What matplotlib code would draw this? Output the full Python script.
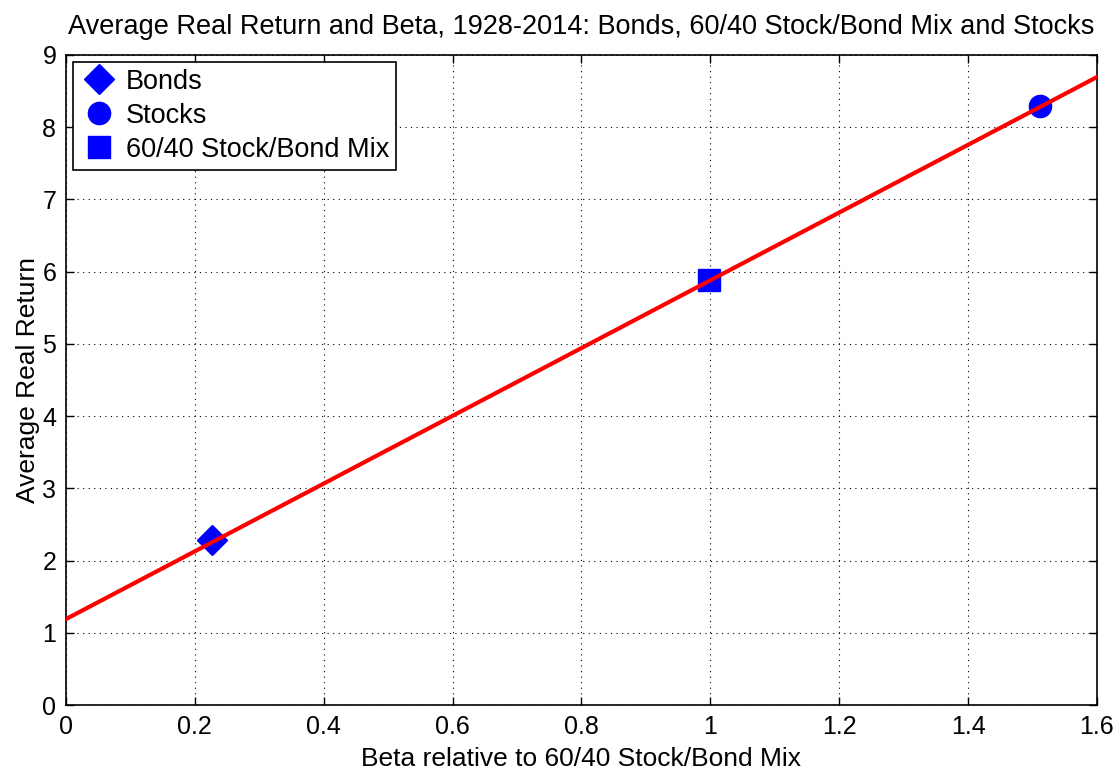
import numpy as np
import matplotlib
matplotlib.use("Agg")
import matplotlib.pyplot as plt

plt.rcParams['font.family'] = ['Liberation Sans', 'DejaVu Sans']

# average real return vs beta, 1928-2014
labels = ["Bonds", "Stocks", "60/40 Stock/Bond Mix"]
betas = [0.226, 1.512, 0.998]
returns = [2.28, 8.30, 5.89]
markers = ["D", "o", "s"]
sizes = [15, 16, 16]

# fitted security market line
fit_intercept = 1.19
fit_slope = 4.69
x_range = [0, 1.6]

fig = plt.figure(figsize=(11.17, 7.71), dpi=100)
ax = fig.add_axes([0.0591, 0.0856, 0.9229, 0.8431])

xs = np.array(x_range)
ax.plot(xs, fit_intercept + fit_slope * xs, color="red", lw=3, zorder=3)

for lab, b, r, m, s in zip(labels, betas, returns, markers, sizes):
    ax.plot(b, r, linestyle="none", marker=m, color="blue", markersize=s,
            label=lab, zorder=2)

ax.set_xlim(0, 1.6)
ax.set_ylim(0, 9)
ax.set_xticks(np.arange(0, 1.61, 0.2))
ax.set_xticklabels(["0", "0.2", "0.4", "0.6", "0.8", "1", "1.2", "1.4", "1.6"])
ax.set_yticks(range(0, 10))

ax.grid(True, linestyle=(0, (1, 4)), color="black", linewidth=0.8)
ax.tick_params(direction="in", top=True, right=True, length=6, width=1,
               labelsize=18, pad=7)
for sp in ax.spines.values():
    sp.set_linewidth(1.2)

ax.set_title("Average Real Return and Beta, 1928-2014: Bonds, 60/40 Stock/Bond Mix and Stocks",
             fontsize=19.5, pad=15)
ax.set_xlabel("Beta relative to 60/40 Stock/Bond Mix", fontsize=19, labelpad=6)
ax.set_ylabel("Average Real Return", fontsize=19, labelpad=2)

leg = ax.legend(loc="upper left", fontsize=19.5, fancybox=False, edgecolor="black",
                framealpha=1, handletextpad=0.3, borderpad=0.25,
                labelspacing=0.3, handlelength=1.4, markerscale=1.0,
                borderaxespad=0.25)
leg.get_frame().set_linewidth(1.2)

fig.savefig("out.png", dpi=100)
